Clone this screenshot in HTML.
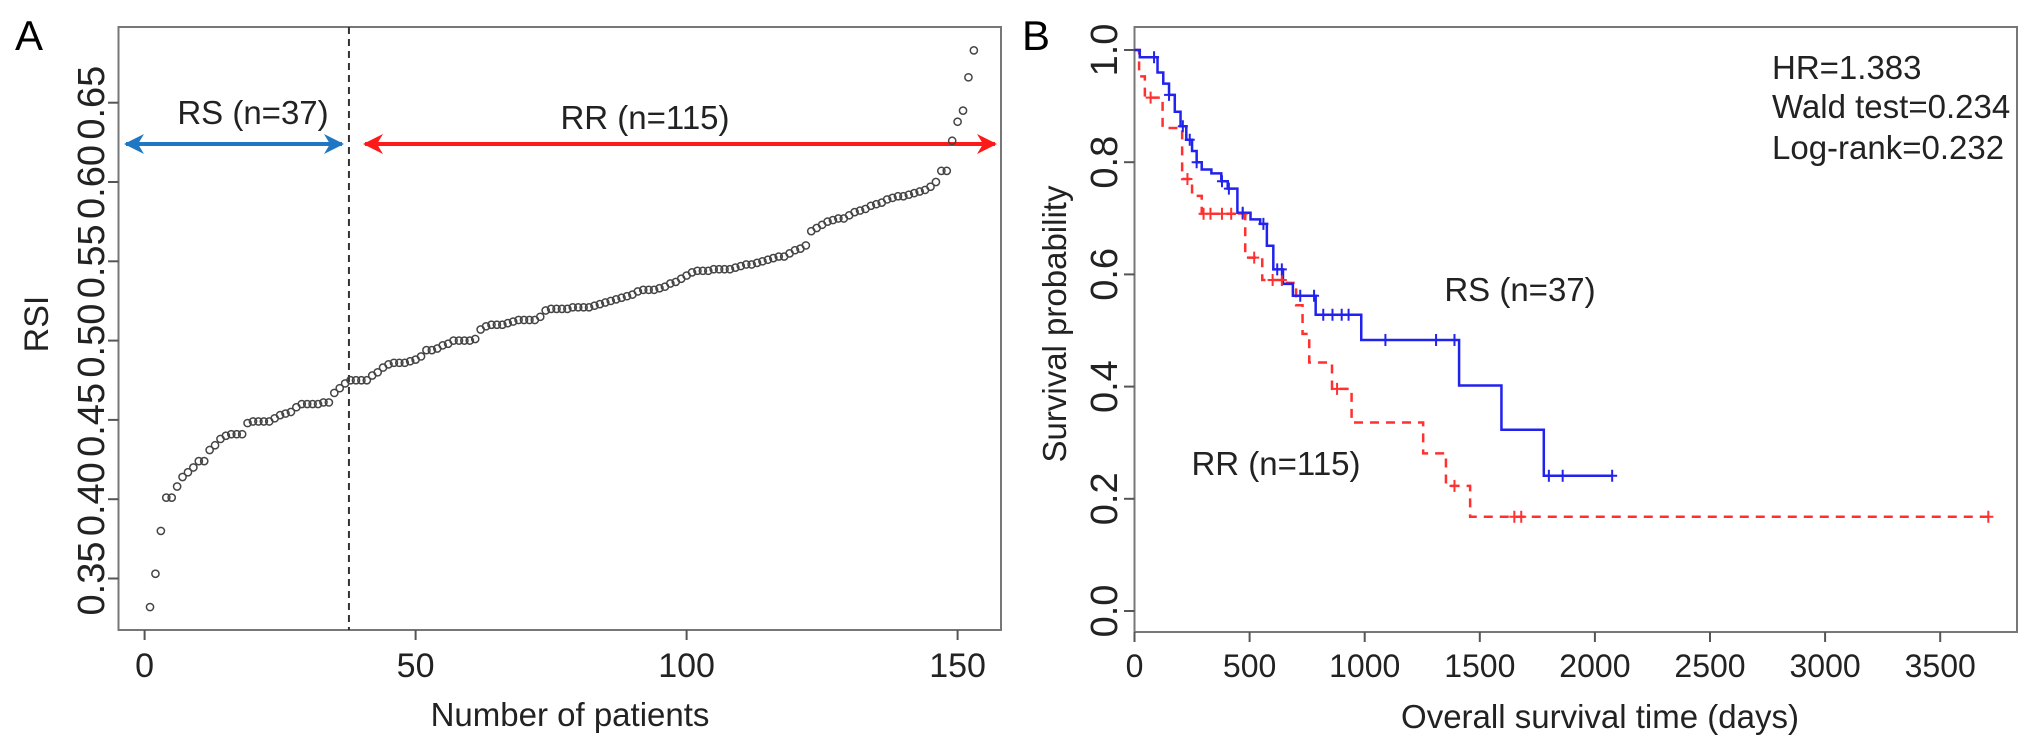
<!DOCTYPE html>
<html><head><meta charset="utf-8"><style>
html,body{margin:0;padding:0;background:#fff;}
svg{display:block;font-family:"Liberation Sans",Arial,sans-serif;}
</style></head><body>
<svg id="fig" width="2032" height="744" viewBox="0 0 2032 744">
<g id="pa"></g>
<g id="pb"></g>
</svg>
<script>
const rsiValues=[0.332,0.353,0.380,0.401,0.401,0.408,0.414,0.417,0.420,0.424,0.424,0.431,0.434,0.438,0.440,0.441,0.441,0.441,
0.448,0.449,0.449,0.449,0.449,0.451,0.453,0.454,0.455,
0.458,0.460,0.460,0.460,0.460,0.461,0.461,
0.467,0.470,0.473,0.475,0.475,0.475,0.475,
0.478,0.480,0.483,0.485,0.486,0.486,0.486,0.487,0.488,
0.490,0.494,0.494,0.495,0.497,0.498,0.500,0.500,0.500,0.500,0.501,
0.507,0.509,0.510,0.510,0.510,0.511,0.512,0.513,0.513,0.513,0.513,0.515,
0.519,0.520,0.520,0.520,0.520,0.521,0.521,0.521,0.521,0.522,0.523,0.524,0.525,0.526,
0.527,0.528,0.529,0.531,0.532,0.532,0.532,0.533,0.534,0.536,0.537,0.539,
0.541,0.543,0.544,0.544,0.544,0.545,0.545,0.545,0.545,0.546,0.547,0.548,0.548,0.549,
0.550,0.551,0.552,0.553,0.553,0.555,0.557,0.558,0.560,
0.569,0.571,0.573,0.575,0.576,0.577,0.577,0.579,0.581,0.582,0.583,0.585,0.586,
0.587,0.589,0.590,0.591,0.591,0.592,0.593,0.594,0.595,0.597,0.600,0.607,
0.607,0.626,0.638,0.645,0.666,0.683];
const aXTicks=[0,50,100,150];
const aYTicks=["0.35","0.40","0.45","0.50","0.55","0.60","0.65"];
const rsCutoff=38;

const rsTimes=[23,100,125,150,175,200,225,250,270,292,334,377,405,447,504,546,575,603,645,688,787,985,1410,1594,1778];
const rsSurv=[0.987,0.96,0.94,0.92,0.89,0.864,0.84,0.82,0.80,0.787,0.78,0.766,0.753,0.71,0.698,0.69,0.651,0.609,0.583,0.562,0.528,0.483,0.402,0.323,0.241];
const rsEnd=2075;
const rsCensor=[85,150,210,240,270,380,410,470,560,620,640,720,780,820,860,900,930,1090,1310,1390,1800,1860,2075];
const rrTimes=[20,45,122,207,250,292,481,555,645,702,730,759,858,943,1254,1353,1458];
const rrSurv=[0.953,0.915,0.861,0.77,0.74,0.708,0.63,0.59,0.585,0.545,0.494,0.443,0.396,0.336,0.281,0.223,0.168];
const rrEnd=3709;
const rrCensor=[70,230,300,330,380,420,470,520,600,640,880,1390,1650,1680,3709];
const bXTicks=[0,500,1000,1500,2000,2500,3000,3500];
const bYTicks=["0.0","0.2","0.4","0.6","0.8","1.0"];

const NS="http://www.w3.org/2000/svg";
function mk(parent,tag,attrs,text){const e=document.createElementNS(NS,tag);for(const k in attrs)e.setAttribute(k,attrs[k]);if(text!==undefined)e.textContent=text;parent.appendChild(e);return e;}
const pa=document.getElementById('pa'), pb=document.getElementById('pb');
const defs=mk(document.getElementById('fig'),'defs',{});
function marker(id,col){const m=mk(defs,'marker',{id:id,viewBox:'0 0 10 10',refX:9,refY:5,markerWidth:6,markerHeight:5,orient:'auto-start-reverse',markerUnits:'strokeWidth'});mk(m,'path',{d:'M0,0 L10,5 L0,10 L3,5 z',fill:col});}
marker('hb','#1f77c4');marker('hr','#ff1a1a');

// ---------- Panel A ----------
const ax=i=>144.6+i*5.42, ay=v=>578.5-(v-0.35)*1586;
let t;
t=mk(pa,'text',{x:29,y:50,'font-size':42,'text-anchor':'middle'},'A');

let r=mk(pa,'rect',{x:118.5,y:27,width:882.5,height:603,fill:'none',stroke:'#777','stroke-width':2});

aXTicks.forEach(v=>{const x=ax(v);
 let l=mk(pa,'line',{x1:x,x2:x,y1:630,y2:640,stroke:'#555','stroke-width':2});
 
 let tx=mk(pa,'text',{x:x,y:677,'font-size':34,'text-anchor':'middle',fill:'#222'},String(v));
 });
aYTicks.forEach(s=>{const y=ay(parseFloat(s));
 let l=mk(pa,'line',{x1:108,x2:118.5,y1:y,y2:y,stroke:'#555','stroke-width':2});
 
 let tx=mk(pa,'text',{x:0,y:0,'font-size':38,'text-anchor':'middle',fill:'#222',transform:`translate(104,${y}) rotate(-90)`},s);
 });
t=mk(pa,'text',{x:0,y:0,'font-size':34,'text-anchor':'middle',fill:'#222',transform:'translate(48,324) rotate(-90)'},'RSI');

t=mk(pa,'text',{x:570,y:726,'font-size':33,'text-anchor':'middle',fill:'#222'},'Number of patients');

const cx=ax(rsCutoff-0.3);
let dl=mk(pa,'line',{x1:cx,x2:cx,y1:27,y2:630,stroke:'#333','stroke-width':2,'stroke-dasharray':'7,5'});

let ab=mk(pa,'line',{x1:126,x2:342,y1:144,y2:144,stroke:'#1f77c4','stroke-width':4,'marker-start':'url(#hb)','marker-end':'url(#hb)'});

let ar=mk(pa,'line',{x1:365,x2:995,y1:144,y2:144,stroke:'#ff1a1a','stroke-width':4,'marker-start':'url(#hr)','marker-end':'url(#hr)'});

t=mk(pa,'text',{x:253,y:124,'font-size':33,'text-anchor':'middle',fill:'#222'},'RS (n=37)');

t=mk(pa,'text',{x:645,y:129,'font-size':33,'text-anchor':'middle',fill:'#222'},'RR (n=115)');

rsiValues.forEach((v,i)=>{
 let c=mk(pa,'circle',{cx:ax(i+1),cy:ay(v),r:3.6,fill:'none',stroke:'#444','stroke-width':1.5});
 });

// ---------- Panel B ----------
const bx=d=>1134.5+d*0.2302, by=p=>611-p*561;
t=mk(pb,'text',{x:1036,y:50,'font-size':42,'text-anchor':'middle'},'B');

r=mk(pb,'rect',{x:1134.5,y:27,width:882.5,height:605,fill:'none',stroke:'#777','stroke-width':2});

bXTicks.forEach(v=>{const x=bx(v);
 let l=mk(pb,'line',{x1:x,x2:x,y1:632,y2:642,stroke:'#555','stroke-width':2});
 
 let tx=mk(pb,'text',{x:x,y:677,'font-size':32,'text-anchor':'middle',fill:'#222'},String(v));
 });
bYTicks.forEach(s=>{const y=by(parseFloat(s));
 let l=mk(pb,'line',{x1:1124,x2:1134.5,y1:y,y2:y,stroke:'#555','stroke-width':2});
 
 let tx=mk(pb,'text',{x:0,y:0,'font-size':38,'text-anchor':'middle',fill:'#222',transform:`translate(1117,${y}) rotate(-90)`},s);
 });
t=mk(pb,'text',{x:0,y:0,'font-size':33,'text-anchor':'middle',fill:'#222',transform:'translate(1066,324) rotate(-90)'},'Survival probability');

t=mk(pb,'text',{x:1600,y:728,'font-size':33,'text-anchor':'middle',fill:'#222'},'Overall survival time (days)');


function survAt(times,surv,d){let s=1;for(let i=0;i<times.length;i++){if(times[i]<=d)s=surv[i];}return s;}
function stepPath(times,surv,end){let d=`M${bx(0)},${by(1)}`;times.forEach((tm,i)=>{d+=` H${bx(tm)} V${by(surv[i])}`;});d+=` H${bx(end)}`;return d;}
let pr=mk(pb,'path',{d:stepPath(rrTimes,rrSurv,rrEnd),fill:'none',stroke:'#ff3030','stroke-width':2.5,'stroke-dasharray':'9,7'});

let ps=mk(pb,'path',{d:stepPath(rsTimes,rsSurv,rsEnd),fill:'none',stroke:'#2222ee','stroke-width':2.5});

function censors(arr,times,surv,col,name){arr.forEach(d=>{const x=bx(d),y=by(survAt(times,surv,d));
 let c=mk(pb,'path',{d:`M${x-5},${y} H${x+5} M${x},${y-6} V${y+6}`,stroke:col,'stroke-width':2});
 });}
censors(rrCensor,rrTimes,rrSurv,'#ff3030','rr-censor-mark');
censors(rsCensor,rsTimes,rsSurv,'#2222ee','rs-censor-mark');
t=mk(pb,'text',{x:1520,y:301,'font-size':33,'text-anchor':'middle',fill:'#222'},'RS (n=37)');

t=mk(pb,'text',{x:1276,y:475,'font-size':33,'text-anchor':'middle',fill:'#222'},'RR (n=115)');

[['HR=1.383',79,'hazard-ratio-text'],['Wald test=0.234',118,'wald-test-text'],['Log-rank=0.232',159,'log-rank-text']].forEach(a=>{
 let s=mk(pb,'text',{x:1772,y:a[1],'font-size':33,'text-anchor':'start',fill:'#222'},a[0]);
 });
</script>
</body></html>
